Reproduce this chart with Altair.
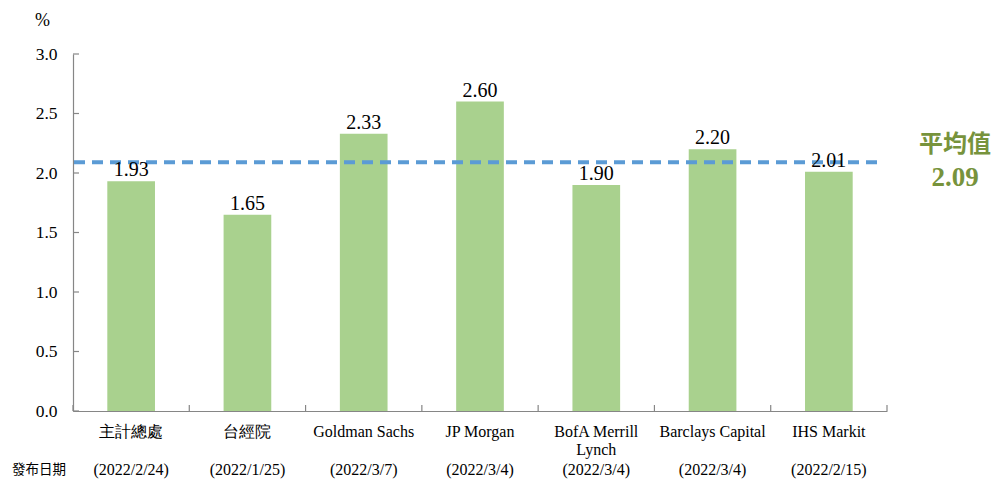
import altair as alt
import pandas as pd

categories = ["主計總處", "台經院", "Goldman Sachs", "JP Morgan", "BofA Merrill|Lynch", "Barclays Capital", "IHS Markit"]
values = [1.93, 1.65, 2.33, 2.60, 1.90, 2.20, 2.01]
dates = ["(2022/2/24)", "(2022/1/25)", "(2022/3/7)", "(2022/3/4)", "(2022/3/4)", "(2022/3/4)", "(2022/2/15)"]
y_ticks = [0.0, 0.5, 1.0, 1.5, 2.0, 2.5, 3.0]
average = 2.09

W, H = 814, 357
SERIF = "Liberation Serif"
CJK = "Noto Sans CJK TC"
AXIS_GRAY = "#868686"

df = pd.DataFrame({"cat": categories, "value": values, "date": dates,
                   "label": [f"{v:.2f}" for v in values]})
ticks_df = pd.DataFrame({"t": y_ticks})
avg_df = pd.DataFrame({"avg": [average]})

x_scale = alt.Scale(domain=categories, paddingInner=0, paddingOuter=0)
y_scale = alt.Scale(domain=[0, 3], nice=False)

base = alt.Chart(df)

bars = base.mark_bar(color="#A9D18E", width=alt.RelativeBandSize(0.41)).encode(
    x=alt.X("cat:N", scale=x_scale, sort=categories, title=None,
            axis=alt.Axis(labelExpr="split(datum.label, '|')", labelAngle=0,
                          labelFont=SERIF, labelFontSize=16, labelColor="black",
                          labelBaseline="top", labelPadding=12, labelLineHeight=18,
                          ticks=False, domainColor=AXIS_GRAY, domainWidth=1.2)),
    y=alt.Y("value:Q", scale=y_scale,
            axis=alt.Axis(values=y_ticks, format=".1f", grid=False, ticks=False,
                          labelFont=SERIF, labelFontSize=17.5, labelColor="black",
                          labelPadding=16, domainColor=AXIS_GRAY, domainWidth=1.2,
                          title="%", titleAngle=0, titleX=-31, titleY=-34,
                          titleAlign="center", titleBaseline="middle",
                          titleFont=SERIF, titleFontSize=18, titleFontWeight="normal",
                          titleColor="black")),
)

labels = base.mark_text(font=SERIF, fontSize=20, color="black", baseline="alphabetic", dy=-5).encode(
    x=alt.X("cat:N", scale=x_scale, sort=categories),
    y=alt.Y("value:Q", scale=y_scale),
    text="label:N",
)

date_text = base.mark_text(font=SERIF, fontSize=16, color="black", baseline="middle").encode(
    x=alt.X("cat:N", scale=x_scale, sort=categories),
    y=alt.value(416),
    text="date:N",
)

date_head = alt.Chart(pd.DataFrame({"t": ["發布日期"]})).mark_text(
    font=CJK, fontSize=13.5, color="black", baseline="middle", align="center").encode(
    x=alt.value(-34), y=alt.value(416), text="t:N")

x_tick_marks = base.mark_rule(color=AXIS_GRAY, strokeWidth=1.2).encode(
    x=alt.X("cat:N", scale=x_scale, sort=categories, bandPosition=0),
    y=alt.value(H), y2=alt.value(H - 6),
)
x_tick_end = alt.Chart(avg_df).mark_rule(color=AXIS_GRAY, strokeWidth=1.2).encode(
    x=alt.value(W), y=alt.value(H), y2=alt.value(H - 6))

y_tick_marks = alt.Chart(ticks_df).mark_rule(color=AXIS_GRAY, strokeWidth=1.2).encode(
    y=alt.Y("t:Q", scale=y_scale), x=alt.value(0), x2=alt.value(6))

avg_line = alt.Chart(avg_df).mark_rule(color="#5B9BD5", strokeWidth=4, strokeDash=[11, 7]).encode(
    y=alt.Y("avg:Q", scale=y_scale), x=alt.value(1), x2=alt.value(W - 6))

avg_title = alt.Chart(pd.DataFrame({"t": ["平均值"]})).mark_text(
    font=CJK, fontSize=24, fontWeight="bold", color="#77933C", baseline="middle").encode(
    x=alt.value(882), y=alt.value(91), text="t:N")
avg_value = alt.Chart(avg_df).mark_text(
    font=SERIF, fontSize=27, fontWeight="bold", color="#77933C", baseline="middle").encode(
    x=alt.value(882), y=alt.value(124), text=alt.Text("avg:Q", format=".2f"))

chart = alt.layer(
    bars, avg_line, labels, date_text, date_head, x_tick_marks, x_tick_end, y_tick_marks,
    avg_title, avg_value
).properties(
    width=W, height=H,
    autosize=alt.AutoSizeParams(type="none"),
    padding={"left": 65, "top": 46, "right": 107, "bottom": 69},
).configure_view(stroke=None)

chart.save("out.html", embed_options={"renderer": "svg", "actions": False})
